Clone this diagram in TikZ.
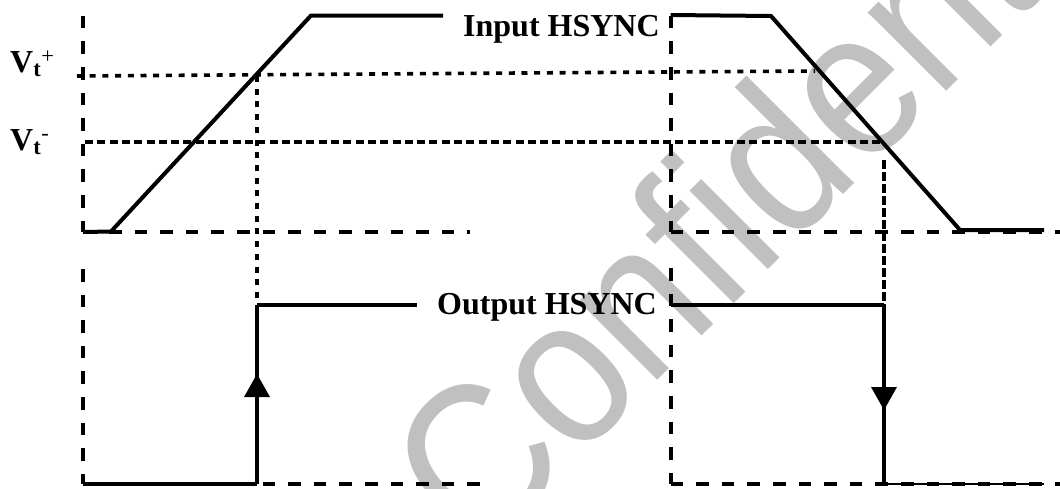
\documentclass[tikz,border=0pt]{standalone}
\usepackage{fontspec}
\setmainfont{Liberation Serif}
\newfontfamily\wmfont{Liberation Sans}
\definecolor{wm}{RGB}{192,192,192}
\tikzset{
  x=1pt,y=-1pt,
  axisline/.style={line width=4pt,dash pattern=on 12.6pt off 13pt},
  middash/.style={line width=3.6pt,dash pattern=on 8pt off 4.3pt},
  dotline/.style={line width=3.6pt,dash pattern=on 6pt off 6.7pt},
  wave/.style={line width=4pt,line join=miter},
  thinwave/.style={line width=3.4pt,line join=miter},
  lab/.style={inner sep=0pt,anchor=base west,font=\bfseries\fontsize{32}{32}\selectfont},
  tri/.style={fill=black,draw=none},
  watermark/.style={inner sep=0pt,anchor=base west,rotate=45,text=wm,font=\wmfont\fontsize{210}{210}\selectfont}
}
\begin{document}
\begin{tikzpicture}
\useasboundingbox (0,0) rectangle (1060,488);
\node[watermark] (wm) at (479,559) {\scalebox{0.895}[1]{Confidential}};
% named points
\coordinate (a1t) at (83.3,15.7); \coordinate (a1b) at (83.3,232);
\coordinate (a2t) at (670.5,15.7); \coordinate (a2b) at (670.5,232);
\coordinate (b1e) at (470,232); \coordinate (b2e) at (1060,232);
\coordinate (vpl) at (77,76); \coordinate (vpr) at (815,71);
\coordinate (vml) at (85,142); \coordinate (vmr) at (883,142);
\coordinate (u1) at (111,231.5); \coordinate (u2) at (311,15.5); \coordinate (u3) at (443,15.5);
\coordinate (d0) at (670.5,15); \coordinate (d1) at (771,16); \coordinate (d2) at (960,230); \coordinate (d3) at (1044,230);
\coordinate (s1t) at (257,76); \coordinate (s1b) at (257,305);
\coordinate (s2t) at (884,160); \coordinate (s2b) at (884,305);
\coordinate (c1t) at (83.3,269); \coordinate (c1b) at (83.3,484);
\coordinate (c2t) at (670.5,268); \coordinate (c2b) at (670.5,484);
\coordinate (e1) at (480,484); \coordinate (e2) at (1060,484);
\coordinate (o1a) at (257,484); \coordinate (o1b) at (417,305);
\coordinate (o2a) at (670.5,305); \coordinate (o2b) at (884,484);
\coordinate (o2c) at (1044,484);
% axes
\draw[axisline] (a1t) -- (a1b);
\draw[axisline] (a1b) -- (b1e);
\draw[axisline] (a2t) -- (a2b);
\draw[axisline] (a2b) -- (b2e);
\draw[axisline] (c1t) -- (c1b);
\draw[axisline] (c1b) -- (e1);
\draw[axisline] (c2t) -- (c2b);
\draw[axisline] (c2b) -- (e2);
% thresholds
\draw[dotline] (vpl) -- (vpr);
\draw[middash] (vml) -- (vmr);
\draw[dotline] (s1t) -- (s1b);
\draw[line width=3.4pt,dash pattern=on 9pt off 3pt] (s2t) -- (s2b);
% input
\draw[wave] (a1b) -- (u1) -- (u2) -- (u3);
\draw[wave] (d0) -- (d1) -- (d2) -- (d3);
% output
\draw[thinwave] (c1b) -- (o1a);
\draw[wave] (o1a) -- (s1b);
\draw[thinwave] (s1b) -- (o1b);
\draw[thinwave] (o2a) -- (s2b);
\draw[wave] (s2b) -- (o2b);
\draw[line width=1.2pt] (o2b) -- (o2c);
% arrowheads
\fill[tri] (257,374) -- (270,397) -- (244,397) -- cycle;
\fill[tri] (884,410) -- (871,387) -- (897,387) -- cycle;
% labels
\node[lab] (inlab) at (463,36) {Input HSYNC};
\node[lab] (outlab) at (437,314) {Output HSYNC};
\node[lab] (vp) at (10,72.5) {V\textsubscript{t}\textsuperscript{\mdseries +}};
\node[lab] (vm) at (10,150) {V\textsubscript{t}\textsuperscript{\mdseries -}};
\end{tikzpicture}
\end{document}
